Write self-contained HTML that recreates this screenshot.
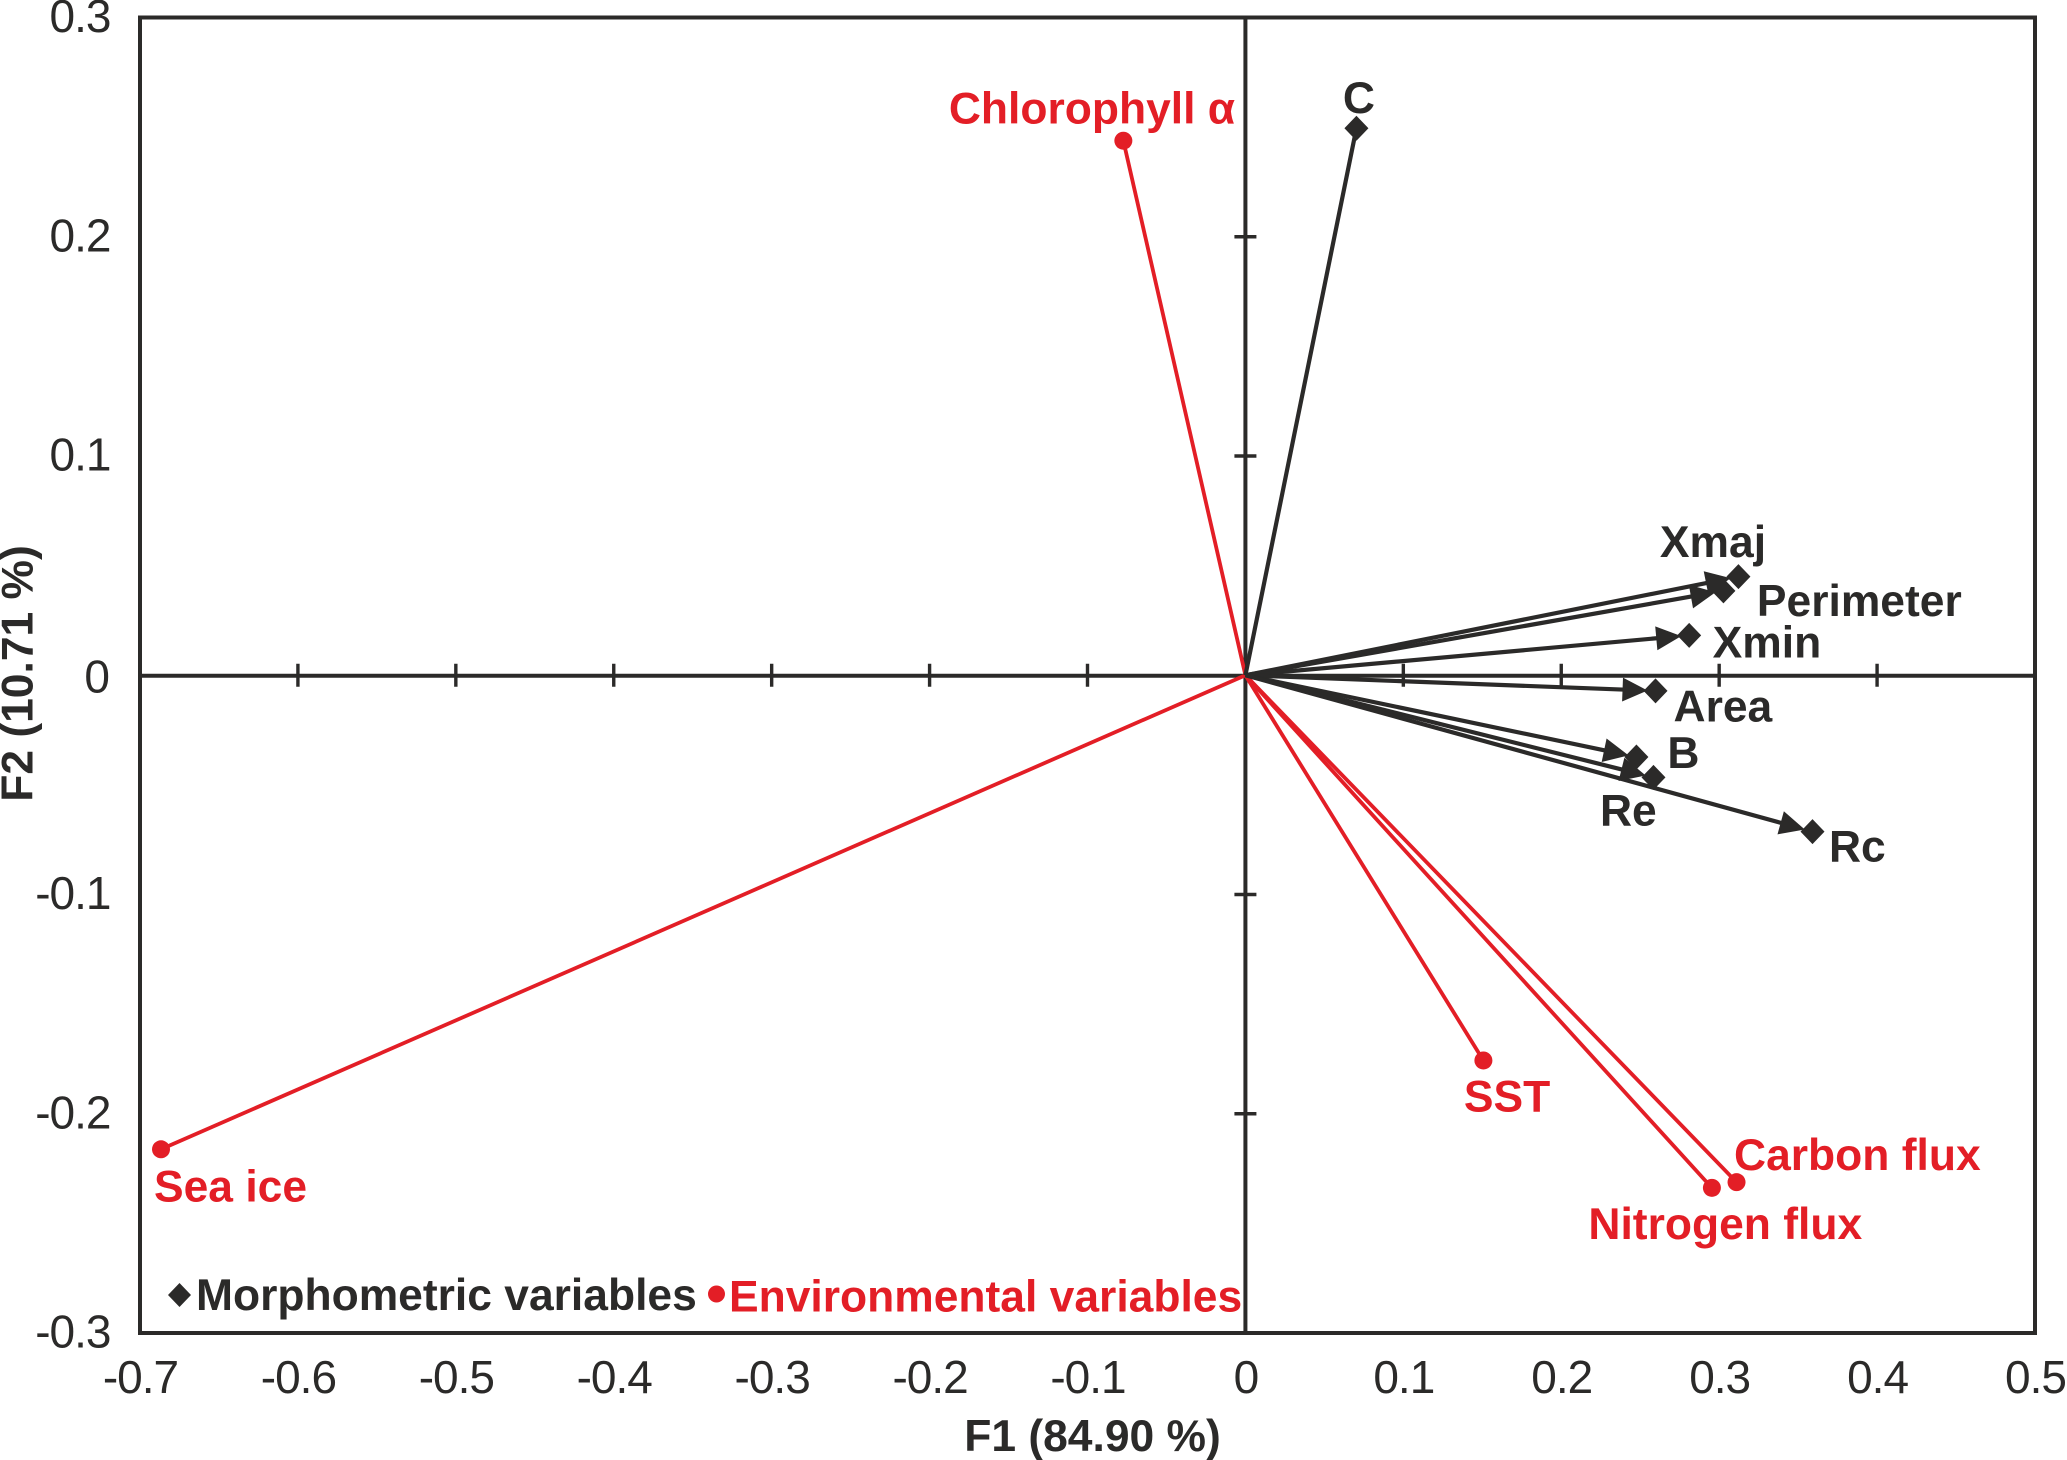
<!DOCTYPE html>
<html lang="en">
<head>
<meta charset="utf-8">
<title>PCA biplot of morphometric and environmental variables</title>
<style>
html,body{margin:0;padding:0;background:#fff;width:2067px;height:1460px;overflow:hidden}
svg{display:block;font-family:"Liberation Sans",Arial,sans-serif}
.tick-label{font-size:46px;letter-spacing:-1px;fill:#2b2a29}
.bold{font-size:44.4px;font-weight:700}
.dark{fill:#2b2a29}
.red{fill:#e31e26}
</style>
</head>
<body>
<svg id="chart" xmlns="http://www.w3.org/2000/svg" width="2067" height="1460" viewBox="0 0 2067 1460">
  <g id="axes"></g>
  <g id="env-series"></g>
  <g id="morph-series"></g>
  <g id="legend">
    <polygon points="168,1295 179.5,1283 191,1295 179.5,1307" fill="#2b2a29"/>
    <text class="bold dark" x="196" y="1310">Morphometric variables</text>
    <circle cx="716.5" cy="1294" r="8.5" fill="#e31e26"/>
    <text class="bold red" x="729" y="1311.5">Environmental variables</text>
  </g>
  <text class="bold dark" x="1092.5" y="1451" text-anchor="middle">F1 (84.90 %)</text>
  <text class="bold dark" transform="translate(32.5,673.5) rotate(-90)" text-anchor="middle">F2 (10.71 %)</text>
</svg>
<script>
const xTicks = [-0.7, -0.6, -0.5, -0.4, -0.3, -0.2, -0.1, 0, 0.1, 0.2, 0.3, 0.4, 0.5];
const yTicks = [0.3, 0.2, 0.1, 0, -0.1, -0.2, -0.3];
const xTickLabels = ['-0.7', '-0.6', '-0.5', '-0.4', '-0.3', '-0.2', '-0.1', '0', '0.1', '0.2', '0.3', '0.4', '0.5'];
const yTickLabels = ['0.3', '0.2', '0.1', '0', '-0.1', '-0.2', '-0.3'];

const morphLabels = ['C', 'Xmaj', 'Perimeter', 'Xmin', 'Area', 'B', 'Re', 'Rc'];
const morphF1 = [0.0703, 0.3027, 0.3122, 0.2810, 0.2597, 0.2476, 0.2584, 0.3591];
const morphF2 = [0.2495, 0.0385, 0.0450, 0.0182, -0.0071, -0.0373, -0.0466, -0.0713];
const morphHasArrow = [false, true, true, true, true, true, true, true];

const envLabels = ['Chlorophyll α', 'Sea ice', 'SST', 'Carbon flux', 'Nitrogen flux'];
const envF1 = [-0.0773, -0.6867, 0.1507, 0.3110, 0.2954];
const envF2 = [0.2438, -0.2162, -0.1757, -0.2312, -0.2338];

const plotLeft = 140, plotRight = 2035, plotTop = 17.5, plotBottom = 1333;
const X_MIN = -0.7, X_MAX = 0.5, Y_MIN = -0.3, Y_MAX = 0.3;
const INK = '#2b2a29', RED = '#e31e26';

const labelOffsets = {
  'C': [-13.5, -15.2], 'Xmaj': [-63.5, -34], 'Perimeter': [18.5, 39.5], 'Xmin': [23.5, 22],
  'Area': [18, 30.7], 'B': [31, 11], 'Re': [-53.5, 48], 'Rc': [16.5, 30],
  'Chlorophyll α': [-174.5, -17], 'Sea ice': [-7, 52], 'SST': [-19.5, 51],
  'Carbon flux': [-2.5, -12], 'Nitrogen flux': [-123.5, 51]
};

function xScale(v) { return plotLeft + (v - X_MIN) / (X_MAX - X_MIN) * (plotRight - plotLeft); }
function yScale(v) { return plotBottom - (v - Y_MIN) / (Y_MAX - Y_MIN) * (plotBottom - plotTop); }

function make(tag, attrs, parent, text) {
  const node = document.createElementNS('http://www.w3.org/2000/svg', tag);
  for (const k in attrs) node.setAttribute(k, attrs[k]);
  if (text !== undefined) node.textContent = text;
  parent.appendChild(node);
  return node;
}

const axes = document.getElementById('axes');

const frame = make('rect', { x: plotLeft, y: plotTop, width: plotRight - plotLeft, height: plotBottom - plotTop, fill: 'none', stroke: INK, 'stroke-width': 4 }, axes);



const zeroX = make('line', { x1: plotLeft, x2: plotRight, y1: yScale(0) + 0.5, y2: yScale(0) + 0.5, stroke: INK, 'stroke-width': 4 }, axes);



const zeroY = make('line', { x1: xScale(0), x2: xScale(0), y1: plotTop, y2: plotBottom, stroke: INK, 'stroke-width': 4 }, axes);



xTicks.forEach(function (t, i) {
  if (t !== 0 && t !== X_MIN && t !== X_MAX) {
    const mark = make('line', { x1: xScale(t), x2: xScale(t), y1: yScale(0) - 11.5, y2: yScale(0) + 11.5, stroke: INK, 'stroke-width': 3.4 }, axes);
    
    
  }
  const label = make('text', { x: xScale(t) + 0.5, y: 1393, 'text-anchor': 'middle', class: 'tick-label' }, axes, xTickLabels[i]);
  
  
});

yTicks.forEach(function (t, i) {
  if (t !== 0 && t !== Y_MIN && t !== Y_MAX) {
    const mark = make('line', { x1: xScale(0) - 11, x2: xScale(0) + 11, y1: yScale(t), y2: yScale(t), stroke: INK, 'stroke-width': 3.4 }, axes);
    
    
  }
  const label = make('text', { x: t === 0 ? 109 : 110.5, y: yScale(t) + (t === 0 ? 17 : 14.5), 'text-anchor': 'end', class: 'tick-label' }, axes, yTickLabels[i]);
  
  
});

const envGroup = document.getElementById('env-series');
envLabels.forEach(function (name, i) {
  const px = xScale(envF1[i]), py = yScale(envF2[i]);
  const vec = make('line', { x1: xScale(0), y1: yScale(0), x2: px, y2: py, stroke: RED, 'stroke-width': 3.8 }, envGroup);
  
  
  const dot = make('circle', { cx: px, cy: py, r: 9, fill: RED }, envGroup);
  
  
  const off = labelOffsets[name];
  const label = make('text', { x: px + off[0], y: py + off[1], class: 'bold red' }, envGroup, name);
  
  
});

const morphGroup = document.getElementById('morph-series');
morphLabels.forEach(function (name, i) {
  const px = xScale(morphF1[i]), py = yScale(morphF2[i]);
  const ox = xScale(0), oy = yScale(0);
  const len = Math.hypot(px - ox, py - oy);
  const ux = (px - ox) / len, uy = (py - oy) / len;
  const endGap = morphHasArrow[i] ? 20 : 0;
  const vec = make('line', { x1: ox, y1: oy, x2: px - ux * endGap, y2: py - uy * endGap, stroke: INK, 'stroke-width': 4.2 }, morphGroup);
  
  
  if (morphHasArrow[i]) {
    const tipX = px - ux * 8, tipY = py - uy * 8;
    const baseX = tipX - ux * 25, baseY = tipY - uy * 25;
    const pts = [tipX, tipY, baseX - uy * 12, baseY + ux * 12, baseX + uy * 12, baseY - ux * 12];
    const head = make('polygon', { points: pts.join(' '), fill: INK }, morphGroup);
    
    
  }
  const diamond = [px - 12, py, px, py - 12.5, px + 12, py, px, py + 12.5];
  const mark = make('polygon', { points: diamond.join(' '), fill: INK }, morphGroup);
  
  
  const off = labelOffsets[name];
  const label = make('text', { x: px + off[0], y: py + off[1], class: 'bold dark' }, morphGroup, name);
  
  
});
</script>
</body>
</html>
